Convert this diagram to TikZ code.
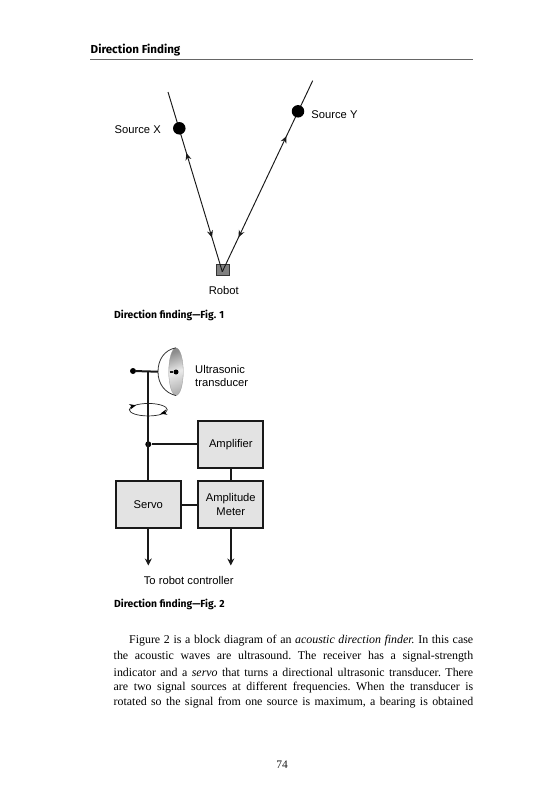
\documentclass[tikz,border=0pt]{standalone}
\usepackage{fontspec}
\setmainfont{Liberation Serif}
\newfontfamily\figfont{Liberation Sans}
\newfontfamily\headfont{Fira Sans}[UprightFont=* Bold]
\usetikzlibrary{arrows.meta,decorations.markings,shapes.geometric}
\newcommand{\bodyline}[2]{\makebox[#1pt][s]{\frenchspacing #2}}
\tikzset{
  x=1pt,y=-1pt,
  figlabel/.style={font=\figfont\fontsize{11.2}{13.2}\selectfont,text=black,inner sep=0,align=center},
  caption/.style={font=\headfont\fontsize{10.3}{12}\selectfont,anchor=west,inner sep=0},
  bodytext/.style={font=\fontsize{11.9}{15}\selectfont,anchor=west,inner sep=0,text=black},
  srcdot/.style={circle,fill=black,minimum size=12.5pt,inner sep=0},
  ray/.style={line width=0.95pt,black!90},
  block/.style={draw=black!90,line width=2.2pt,fill=black!11,minimum width=65pt,inner sep=0,align=center,font=\figfont\fontsize{11.2}{13.2}\selectfont},
  wire/.style={line width=2pt,black!90},
  junction/.style={circle,fill=black,minimum size=6pt,inner sep=0},
  arrowsX/.style={postaction={decorate},decoration={markings,
    mark=at position 0.34 with {\arrowreversed{Stealth[length=7pt,width=6pt]}},
    mark=at position 0.81 with {\arrow{Stealth[length=7pt,width=6pt]}}}},
  arrowsY/.style={postaction={decorate},decoration={markings,
    mark=at position 0.29 with {\arrowreversed{Stealth[length=7pt,width=6pt]}},
    mark=at position 0.82 with {\arrow{Stealth[length=7pt,width=6pt]}}}},
}
\begin{document}
\begin{tikzpicture}
\useasboundingbox[fill=white] (0,0) rectangle (548,800);
% header
\node[font=\headfont\fontsize{11.6}{14}\selectfont,anchor=west,inner sep=0] (head) at (90.5,50) {Direction Finding};
\coordinate (ruleL) at (90,59); \coordinate (ruleR) at (473,59);
\draw[black!60,line width=0.7pt] (ruleL) -- (ruleR);
% Fig 1
\node[draw=black!80,fill=black!50,minimum width=12.5pt,minimum height=11.5pt,inner sep=0,line width=0.5pt] (robot) at (222.5,269.7) {};
\coordinate (tip) at (222.3,271.7);
\coordinate (xtop) at (168,92);
\coordinate (ytop) at (312.7,80.7);
\draw[ray,arrowsX] (xtop) -- (tip);
\draw[ray,arrowsY] (ytop) -- (tip);
\node[srcdot] (sx) at (179.3,128.3) {};
\node[srcdot] (sy) at (298,111.3) {};
\node[figlabel] (lx) at (137.7,129.3) {Source X};
\node[figlabel] (ly) at (334.5,114.3) {Source Y};
\node[figlabel] (lr) at (223.7,290) {Robot};
\node[caption] (c1) at (114,315) {Direction finding—Fig. 1};
% Fig 2
\node[block,minimum height=47pt] (amp) at (230.8,444.3) {\raisebox{-1.2pt}{Amplifier}};
\node[block,minimum height=47.5pt] (servo) at (148.3,504.5) {\raisebox{-0.8pt}{Servo}};
\node[block,minimum height=47.5pt] (meter) at (230.8,504.5) {\raisebox{-1.5pt}{Amplitude}\\\raisebox{-1.5pt}{Meter}};
\node[junction] (top) at (133,371) {};
\node[junction] (jn) at (148.3,444.3) {};
\coordinate (busTop) at (servo.north |- top);
\coordinate (out1) at (148.3,565.5);
\coordinate (out2) at (230.8,565.5);
% rotation ellipse
\node[draw=black!85,line width=0.7pt,ellipse,minimum width=38pt,minimum height=12.5pt,inner sep=0] (rot) at (148.3,409.7) {};
\coordinate (rota) at (135,405.3);
\coordinate (rotb) at (161.5,413.6);
\draw[-{Stealth[length=6.5pt,width=5.5pt]},line width=0.7pt] ([xshift=-4pt,yshift=-1.2pt]rota) -- ([xshift=1pt]rota);
\draw[-{Stealth[length=6.5pt,width=5.5pt]},line width=0.7pt] ([xshift=4pt,yshift=1.2pt]rotb) -- ([xshift=-1pt]rotb);
% dish
\node[ellipse,draw=black!40,line width=0.3pt,left color=black!45,right color=black!30,middle color=black!8,shading angle=20,minimum width=14.5pt,minimum height=47.5pt,inner sep=0] (dish) at (176,371.7) {};
\draw[line width=0.8pt,black!80] (dish.north) .. controls (164,350) and (158,360) .. (158,371.7) coordinate (back) .. controls (158,384) and (165,393) .. (dish.south);
\node[circle,fill=black,minimum size=5pt,inner sep=0] (feed) at (176,372) {};
\coordinate (feedL) at (169.5,372);
\draw[wire] (feedL) -- (feed);
\draw[wire] (top) -- (back);
\draw[wire] (busTop) -- (servo.north);
\draw[wire] (jn) -- (amp.west);
\draw[wire] (amp.south) -- (meter.north);
\draw[wire] (servo.east) -- (meter.west);
\draw[wire,-{Stealth[length=7pt,width=7pt]}] (servo.south) -- (out1);
\draw[wire,-{Stealth[length=7pt,width=7pt]}] (meter.south) -- (out2);
\node[figlabel,align=left,anchor=west] (lt) at (195,376) {Ultrasonic\\transducer};
\node[figlabel] (lc) at (188.7,580) {To robot controller};
\node[caption] (c2) at (114,604.3) {Direction finding—Fig. 2};
% body
\node[bodytext] (l1) at (129,641) {\bodyline{344}{Figure 2 is a block diagram of an \textit{acoustic direction finder.} In this case}};
\node[bodytext] (l2) at (113.5,656.5) {\bodyline{359.5}{the acoustic waves are ultrasound. The receiver has a signal-strength}};
\node[bodytext] (l3) at (113.5,672) {\bodyline{359.5}{indicator and a \textit{servo} that turns a directional ultrasonic transducer. There}};
\node[bodytext] (l4) at (113.5,687.3) {\bodyline{359.5}{are two signal sources at different frequencies. When the transducer is}};
\node[bodytext] (l5) at (113.5,702.5) {\bodyline{359.5}{rotated so the signal from one source is maximum, a bearing is obtained}};
\node[font=\fontsize{11.5}{14}\selectfont,inner sep=0,text=black!90] (pg) at (282,765) {74};
\end{tikzpicture}
\end{document}
